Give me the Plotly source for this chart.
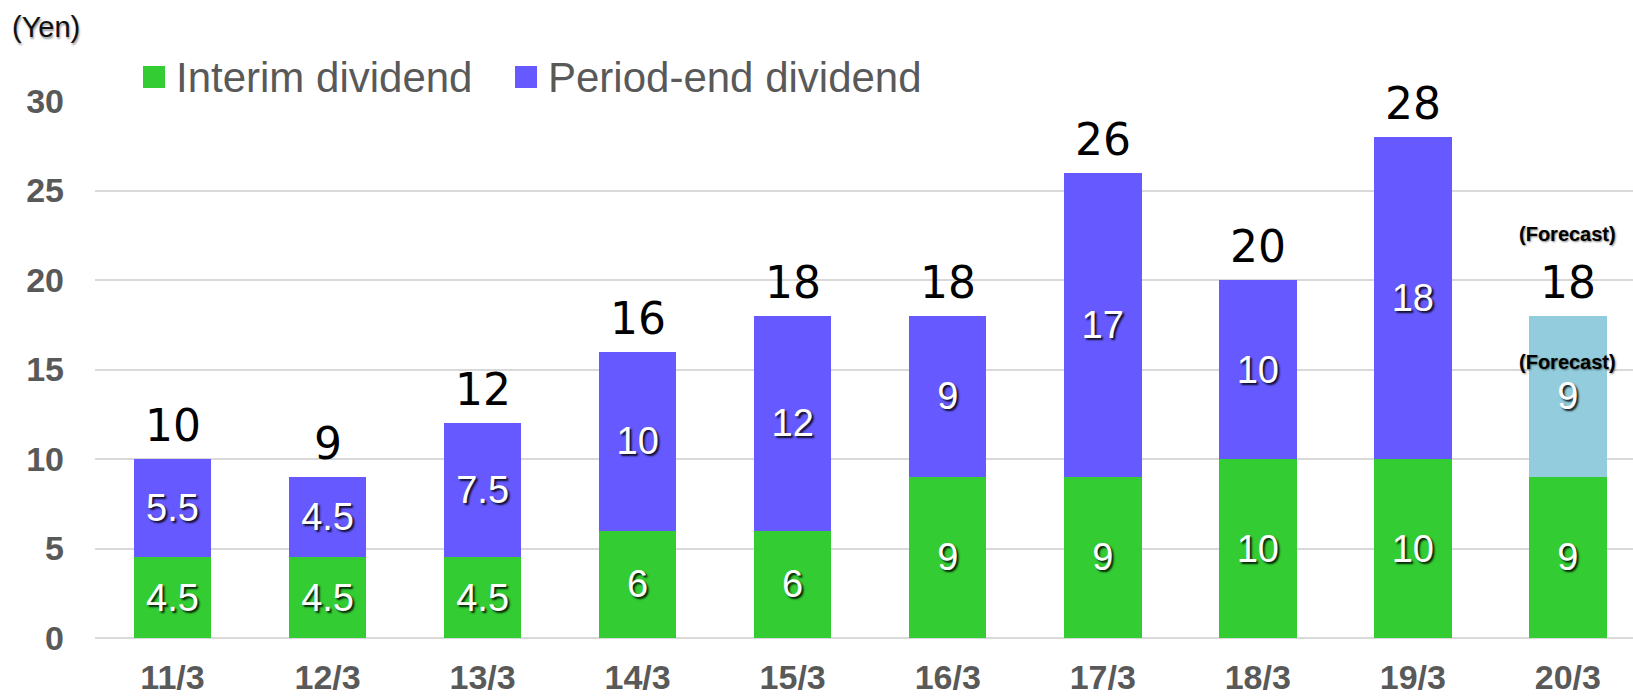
import plotly.graph_objects as go

# ---- data ----
categories = ["11/3", "12/3", "13/3", "14/3", "15/3", "16/3", "17/3", "18/3", "19/3", "20/3"]
interim = [4.5, 4.5, 4.5, 6, 6, 9, 9, 10, 10, 9]
period_end = [5.5, 4.5, 7.5, 10, 12, 9, 17, 10, 18, 9]
totals = [10, 9, 12, 16, 18, 18, 26, 20, 28, 18]
forecast_flags = [False] * 9 + [True]
y_ticks = [0, 5, 10, 15, 20, 25, 30]

# ---- style ----
W, H = 1633, 696
ML, MR, MT, MB = 95, 0, 101, 58
PW, PH = W - ML - MR, H - MT - MB
GREEN = "#33CC33"
PURPLE = "#6659FF"
FORECAST = "#93CDDD"
GRAY = "#595959"
SANS = "Liberation Sans, Arial, sans-serif"


def px_x(px):
    return (px - ML) / PW


def px_y(py):
    return (H - MB - py) / PH


def fmt(v):
    return f"{v:g}"


inner_font = dict(family=SANS, size=38, color="white", shadow="2px 2px 2px rgba(0,0,0,0.85)")

fig = go.Figure()
fig.add_trace(go.Bar(
    x=categories, y=interim, name="Interim dividend",
    marker=dict(color=GREEN, line=dict(width=0)),
    text=[fmt(v) for v in interim], textposition="inside", insidetextanchor="middle",
    textangle=0, textfont=inner_font, width=0.5, showlegend=False,
))
fig.add_trace(go.Bar(
    x=categories, y=period_end, name="Period-end dividend",
    marker=dict(color=[FORECAST if f else PURPLE for f in forecast_flags], line=dict(width=0)),
    text=[fmt(v) for v in period_end], textposition="inside", insidetextanchor="middle",
    textangle=0, textfont=inner_font, width=0.5, showlegend=False,
))

annotations = []
# totals above bars
for c, t in zip(categories, totals):
    annotations.append(dict(
        x=c, y=t, xref="x", yref="y", text=str(t), showarrow=False,
        yanchor="bottom", yshift=6,
        font=dict(family="DejaVu Sans", size=44, color="black"),
    ))
# forecast labels
for c, t, pe, f in zip(categories, totals, period_end, forecast_flags):
    if f:
        annotations.append(dict(
            x=c, y=t, xref="x", yref="y", text="(Forecast)", showarrow=False,
            yanchor="bottom", yshift=69,
            font=dict(family=SANS, size=20, color="black", weight="bold",
                      shadow="1px 1px 2px rgba(0,0,0,0.5)"),
        ))
        annotations.append(dict(
            x=c, y=t - pe / 2, xref="x", yref="y", text="(Forecast)", showarrow=False,
            yanchor="bottom", yshift=21,
            font=dict(family=SANS, size=20, color="black", weight="bold",
                      shadow="1px 1px 2px rgba(0,0,0,0.5)"),
        ))

# unit label
annotations.append(dict(
    x=px_x(10), y=px_y(27), xref="paper", yref="paper", text="(Yen)", showarrow=False,
    xanchor="left", yanchor="middle",
    font=dict(family=SANS, size=29, color="#111111", shadow="1px 2px 2px rgba(0,0,0,0.4)"),
))

# manual legend
shapes = []
legend_items = [("Interim dividend", GREEN, 143), ("Period-end dividend", PURPLE, 515)]
for label, col, x0 in legend_items:
    shapes.append(dict(type="rect", xref="paper", yref="paper",
                       x0=px_x(x0), x1=px_x(x0 + 22), y0=px_y(88), y1=px_y(66),
                       fillcolor=col, line=dict(width=0), layer="above"))
    annotations.append(dict(
        x=px_x(x0 + 31), y=px_y(77), xref="paper", yref="paper", text=label,
        showarrow=False, xanchor="left", yanchor="middle",
        font=dict(family=SANS, size=42, color=GRAY),
    ))

fig.update_layout(
    width=W, height=H,
    margin=dict(l=ML, r=MR, t=MT, b=MB, pad=0),
    barmode="stack",
    plot_bgcolor="white", paper_bgcolor="white",
    showlegend=False,
    annotations=annotations,
    shapes=shapes,
    uniformtext=dict(mode=False),
)
fig.update_xaxes(
    type="category", range=[-0.5, 9.42],
    tickfont=dict(family=SANS, size=34, color=GRAY, weight="bold"),
    showgrid=False, ticks="", ticklabelstandoff=16,
    showline=False, zeroline=False,
)
fig.update_yaxes(
    range=[0, 30], tickvals=y_ticks, ticktext=[str(v) for v in y_ticks],
    tickfont=dict(family=SANS, size=34, color=GRAY, weight="bold"),
    showgrid=True, gridcolor="#D9D9D9", gridwidth=2,
    zeroline=True, zerolinecolor="#D9D9D9", zerolinewidth=2,
    ticks="", ticklabelstandoff=30, showline=False,
)

fig.write_html(
    "out.html",
    config={"displayModeBar": False},
    post_script="document.body.style.margin='0';document.body.style.overflow='hidden';",
)
